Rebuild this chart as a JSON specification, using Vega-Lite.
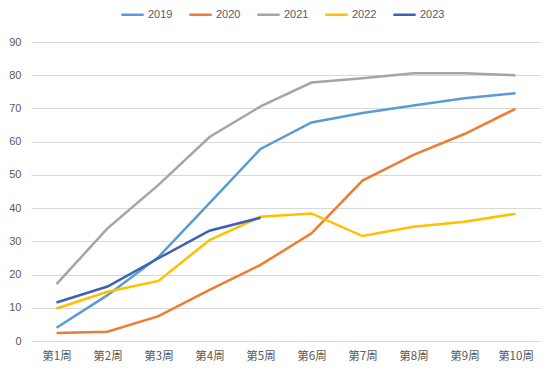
{
  "$schema": "https://vega.github.io/schema/vega-lite/v6.json",
  "width": 510,
  "height": 299,
  "autosize": "none",
  "padding": {"left": 31, "top": 42, "right": 19, "bottom": 29},
  "background": "white",
  "config": {
    "view": {"stroke": null},
    "font": "Noto Sans CJK SC"
  },
  "data": {
    "values": [
      {"week": "第1周", "year": "2019", "v": 4.0},
      {"week": "第2周", "year": "2019", "v": 13.8},
      {"week": "第3周", "year": "2019", "v": 25.3},
      {"week": "第4周", "year": "2019", "v": 41.5},
      {"week": "第5周", "year": "2019", "v": 57.8},
      {"week": "第6周", "year": "2019", "v": 65.8},
      {"week": "第7周", "year": "2019", "v": 68.6},
      {"week": "第8周", "year": "2019", "v": 70.9},
      {"week": "第9周", "year": "2019", "v": 73.1},
      {"week": "第10周", "year": "2019", "v": 74.6},
      {"week": "第1周", "year": "2020", "v": 2.4},
      {"week": "第2周", "year": "2020", "v": 2.8},
      {"week": "第3周", "year": "2020", "v": 7.5},
      {"week": "第4周", "year": "2020", "v": 15.4},
      {"week": "第5周", "year": "2020", "v": 22.9},
      {"week": "第6周", "year": "2020", "v": 32.4},
      {"week": "第7周", "year": "2020", "v": 48.3},
      {"week": "第8周", "year": "2020", "v": 56.0},
      {"week": "第9周", "year": "2020", "v": 62.3},
      {"week": "第10周", "year": "2020", "v": 69.9},
      {"week": "第1周", "year": "2021", "v": 17.1},
      {"week": "第2周", "year": "2021", "v": 33.9},
      {"week": "第3周", "year": "2021", "v": 47.0},
      {"week": "第4周", "year": "2021", "v": 61.4},
      {"week": "第5周", "year": "2021", "v": 70.6},
      {"week": "第6周", "year": "2021", "v": 77.8},
      {"week": "第7周", "year": "2021", "v": 79.1},
      {"week": "第8周", "year": "2021", "v": 80.6},
      {"week": "第9周", "year": "2021", "v": 80.6},
      {"week": "第10周", "year": "2021", "v": 80.0},
      {"week": "第1周", "year": "2022", "v": 9.8},
      {"week": "第2周", "year": "2022", "v": 14.8},
      {"week": "第3周", "year": "2022", "v": 18.1},
      {"week": "第4周", "year": "2022", "v": 30.4},
      {"week": "第5周", "year": "2022", "v": 37.4},
      {"week": "第6周", "year": "2022", "v": 38.4},
      {"week": "第7周", "year": "2022", "v": 31.6},
      {"week": "第8周", "year": "2022", "v": 34.4},
      {"week": "第9周", "year": "2022", "v": 35.9},
      {"week": "第10周", "year": "2022", "v": 38.3},
      {"week": "第1周", "year": "2023", "v": 11.6},
      {"week": "第2周", "year": "2023", "v": 16.4},
      {"week": "第3周", "year": "2023", "v": 24.9},
      {"week": "第4周", "year": "2023", "v": 33.2},
      {"week": "第5周", "year": "2023", "v": 37.1}
    ]
  },
  "mark": {"type": "line", "strokeWidth": 2.5},
  "encoding": {
    "x": {
      "field": "week",
      "type": "ordinal",
      "sort": null,
      "scale": {"type": "point", "padding": 0.5},
      "axis": {
        "title": null,
        "labelAngle": 0,
        "ticks": false,
        "domain": false,
        "grid": false,
        "labelColor": "#595959",
        "labelFontSize": 11.5,
        "labelPadding": 9
      }
    },
    "y": {
      "field": "v",
      "type": "quantitative",
      "scale": {"domain": [0, 90]},
      "axis": {
        "title": null,
        "values": [0, 10, 20, 30, 40, 50, 60, 70, 80, 90],
        "ticks": false,
        "domain": false,
        "gridColor": "#D9D9D9",
        "gridWidth": 1,
        "labelColor": "#595959",
        "labelFontSize": 11,
        "labelPadding": 10,
        "labelFont": "Liberation Sans"
      }
    },
    "color": {
      "field": "year",
      "type": "nominal",
      "scale": {
        "domain": ["2019", "2020", "2021", "2022", "2023"],
        "range": ["#5B9BD5", "#ED7D31", "#A5A5A5", "#FFC000", "#3A62B8"]
      },
      "legend": {
        "title": null,
        "orient": "none",
        "direction": "horizontal",
        "legendX": 89,
        "legendY": -40,
        "symbolType": "stroke",
        "symbolStrokeWidth": 2.5,
        "symbolSize": 500,
        "labelColor": "#595959",
        "labelFontSize": 11,
        "labelFont": "Liberation Sans",
        "columnPadding": 11,
        "labelOffset": 3
      }
    }
  }
}
